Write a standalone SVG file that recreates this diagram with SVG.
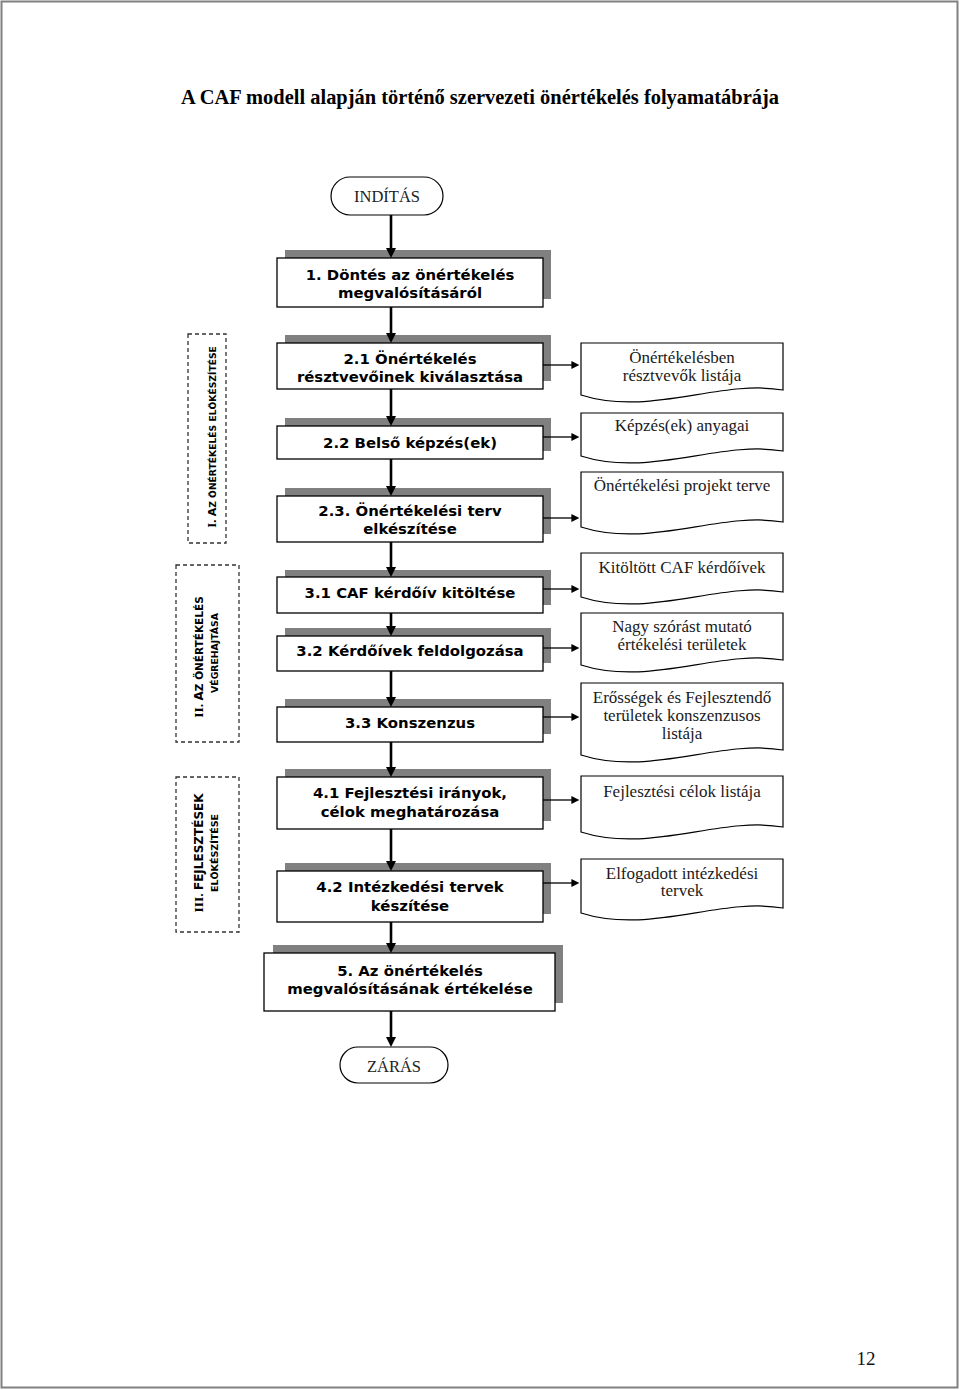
<svg xmlns="http://www.w3.org/2000/svg" width="960" height="1390" viewBox="0 0 960 1390">
<style>
.page{fill:#fff;stroke:#808080;stroke-width:2}
.shadow{fill:#808080}
.box{fill:#fff;stroke:#000;stroke-width:1.3}
.bt{font-family:"DejaVu Sans",Verdana,sans-serif;font-weight:bold;font-size:14.9px;fill:#000;text-anchor:middle}
.doc{fill:#fff;stroke:#000;stroke-width:1.2}
.dt{font-family:"Liberation Serif","Times New Roman",serif;font-size:17px;fill:#1a1a1a;text-anchor:middle}
.pill{fill:#fff;stroke:#000;stroke-width:1.2}
.pt{font-family:"Liberation Serif","Times New Roman",serif;font-size:16.5px;fill:#222;text-anchor:middle}
.main{stroke:#000;stroke-width:2.6;fill:none}
.side{stroke:#000;stroke-width:1.3;fill:none}
.dash{fill:none;stroke:#333;stroke-width:1.3;stroke-dasharray:4 3}
.lbs{font-family:"Liberation Serif","Times New Roman",serif;font-weight:bold}
.lbv{font-family:"DejaVu Sans",Verdana,sans-serif;font-weight:bold}
</style>
<defs>
<marker id="ahm" viewBox="0 0 10 10" refX="2" refY="5" markerWidth="10" markerHeight="11" markerUnits="userSpaceOnUse" orient="auto"><path d="M0,0 L10,5 L0,10 z" fill="#000"/></marker>
<marker id="ahs" viewBox="0 0 10 10" refX="2" refY="5" markerWidth="9" markerHeight="8" markerUnits="userSpaceOnUse" orient="auto"><path d="M0,0 L10,5 L0,10 z" fill="#000"/></marker>
</defs>
<rect class="page" x="1.5" y="1.5" width="956" height="1386"/>
<text x="480" y="104" font-family="'Liberation Serif','Times New Roman',serif" font-weight="bold" font-size="20" text-anchor="middle" textLength="598" lengthAdjust="spacingAndGlyphs">A CAF modell alapján történő szervezeti önértékelés folyamatábrája</text>

<g id="labels">
<rect class="dash" x="188" y="334" width="38" height="209"/>
<text transform="translate(216,437) rotate(-90)" text-anchor="middle"><tspan class="lbs" font-size="13">I. </tspan><tspan class="lbv" font-size="11">A</tspan><tspan class="lbv" font-size="9.2">Z ÖNÉRTÉKELÉS ELŐKÉSZÍTÉSE</tspan></text>
<rect class="dash" x="176" y="565" width="63" height="177"/>
<text transform="translate(203,657) rotate(-90)" text-anchor="middle"><tspan class="lbs" font-size="13.5">II. </tspan><tspan class="lbv" font-size="12">A</tspan><tspan class="lbv" font-size="10.5">Z ÖNÉRTÉKELÉS</tspan></text>
<text transform="translate(218,653) rotate(-90)" text-anchor="middle" class="lbv" font-size="9.3">VÉGREHAJTÁSA</text>
<rect class="dash" x="176" y="777" width="63" height="155"/>
<text transform="translate(203,853) rotate(-90)" text-anchor="middle"><tspan class="lbs" font-size="13.5">III. </tspan><tspan class="lbv" font-size="12">FEJLESZTÉSEK</tspan></text>
<text transform="translate(218,853) rotate(-90)" text-anchor="middle" class="lbv" font-size="9.5">ELŐKÉSZÍTÉSE</text>
</g>

<g id="start"><rect class="pill" x="331" y="177" width="112" height="38" rx="19"/><text class="pt" x="387" y="202">INDÍTÁS</text></g>

<g id="n1"><rect class="shadow" x="285" y="250" width="266" height="49"/><rect class="box" x="277" y="258" width="266" height="49"/><text class="bt" x="410" y="280">1. Döntés az önértékelés</text><text class="bt" x="410" y="298">megvalósításáról</text></g>
<g id="n21"><rect class="shadow" x="285" y="335" width="266" height="46"/><rect class="box" x="277" y="343" width="266" height="46"/><text class="bt" x="410" y="364">2.1 Önértékelés</text><text class="bt" x="410" y="382">résztvevőinek kiválasztása</text></g>
<g id="n22"><rect class="shadow" x="285" y="418" width="266" height="33"/><rect class="box" x="277" y="426" width="266" height="33"/><text class="bt" x="410" y="448">2.2 Belső képzés(ek)</text></g>
<g id="n23"><rect class="shadow" x="285" y="488" width="266" height="46"/><rect class="box" x="277" y="496" width="266" height="46"/><text class="bt" x="410" y="516">2.3. Önértékelési terv</text><text class="bt" x="410" y="534">elkészítése</text></g>
<g id="n31"><rect class="shadow" x="285" y="570" width="266" height="35"/><rect class="box" x="277" y="577" width="266" height="36"/><text class="bt" x="410" y="598">3.1 CAF kérdőív kitöltése</text></g>
<g id="n32"><rect class="shadow" x="285" y="628" width="266" height="35"/><rect class="box" x="277" y="636" width="266" height="35"/><text class="bt" x="410" y="656">3.2 Kérdőívek feldolgozása</text></g>
<g id="n33"><rect class="shadow" x="285" y="699" width="266" height="35"/><rect class="box" x="277" y="707" width="266" height="35"/><text class="bt" x="410" y="728">3.3 Konszenzus</text></g>
<g id="n41"><rect class="shadow" x="285" y="769" width="266" height="52"/><rect class="box" x="277" y="777" width="266" height="52"/><text class="bt" x="410" y="798">4.1 Fejlesztési irányok,</text><text class="bt" x="410" y="817">célok meghatározása</text></g>
<g id="n42"><rect class="shadow" x="285" y="863" width="266" height="51"/><rect class="box" x="277" y="871" width="266" height="51"/><text class="bt" x="410" y="892">4.2 Intézkedési tervek</text><text class="bt" x="410" y="911">készítése</text></g>
<g id="n5"><rect class="shadow" x="273" y="945" width="290" height="58"/><rect class="box" x="264" y="953" width="291" height="58"/><text class="bt" x="410" y="976">5. Az önértékelés</text><text class="bt" x="410" y="994">megvalósításának értékelése</text></g>

<g id="end"><rect class="pill" x="340" y="1047" width="108" height="36" rx="18"/><text class="pt" x="394" y="1072">ZÁRÁS</text></g>

<g id="d1"><path class="doc" d="M581,343 H783 V390 C720,379 650,417 581,395 Z"/><text class="dt" x="682" y="363">Önértékelésben</text><text class="dt" x="682" y="381">résztvevők listája</text></g>
<g id="d2"><path class="doc" d="M581,413 H783 V451 C720,440 650,478 581,456 Z"/><text class="dt" x="682" y="431">Képzés(ek) anyagai</text></g>
<g id="d3"><path class="doc" d="M581,472 H783 V522 C720,511 650,549 581,527 Z"/><text class="dt" x="682" y="491">Önértékelési projekt terve</text></g>
<g id="d4"><path class="doc" d="M581,553 H783 V592 C720,581 650,619 581,597 Z"/><text class="dt" x="682" y="573">Kitöltött CAF kérdőívek</text></g>
<g id="d5"><path class="doc" d="M581,613 H783 V660 C720,649 650,687 581,665 Z"/><text class="dt" x="682" y="632">Nagy szórást mutató</text><text class="dt" x="682" y="650">értékelési területek</text></g>
<g id="d6"><path class="doc" d="M581,683 H783 V750 C720,739 650,777 581,755 Z"/><text class="dt" x="682" y="703">Erősségek és Fejlesztendő</text><text class="dt" x="682" y="721">területek konszenzusos</text><text class="dt" x="682" y="739">listája</text></g>
<g id="d7"><path class="doc" d="M581,776 H783 V827 C720,816 650,854 581,832 Z"/><text class="dt" x="682" y="797">Fejlesztési célok listája</text></g>
<g id="d8"><path class="doc" d="M581,859 H783 V908 C720,897 650,935 581,913 Z"/><text class="dt" x="682" y="879">Elfogadott intézkedési</text><text class="dt" x="682" y="896">tervek</text></g>

<g id="connectors">
<line class="main" x1="391" y1="215" x2="391" y2="250" marker-end="url(#ahm)"/>
<line class="main" x1="391" y1="307" x2="391" y2="335" marker-end="url(#ahm)"/>
<line class="main" x1="391" y1="389" x2="391" y2="418" marker-end="url(#ahm)"/>
<line class="main" x1="391" y1="459" x2="391" y2="488" marker-end="url(#ahm)"/>
<line class="main" x1="391" y1="542" x2="391" y2="569" marker-end="url(#ahm)"/>
<line class="main" x1="391" y1="613" x2="391" y2="628" marker-end="url(#ahm)"/>
<line class="main" x1="391" y1="671" x2="391" y2="699" marker-end="url(#ahm)"/>
<line class="main" x1="391" y1="742" x2="391" y2="769" marker-end="url(#ahm)"/>
<line class="main" x1="391" y1="829" x2="391" y2="863" marker-end="url(#ahm)"/>
<line class="main" x1="391" y1="922" x2="391" y2="945" marker-end="url(#ahm)"/>
<line class="main" x1="391" y1="1011" x2="391" y2="1039" marker-end="url(#ahm)"/>
<line class="side" x1="543" y1="365" x2="573" y2="365" marker-end="url(#ahs)"/>
<line class="side" x1="543" y1="437" x2="573" y2="437" marker-end="url(#ahs)"/>
<line class="side" x1="543" y1="518" x2="573" y2="518" marker-end="url(#ahs)"/>
<line class="side" x1="543" y1="589" x2="573" y2="589" marker-end="url(#ahs)"/>
<line class="side" x1="543" y1="648" x2="573" y2="648" marker-end="url(#ahs)"/>
<line class="side" x1="543" y1="717" x2="573" y2="717" marker-end="url(#ahs)"/>
<line class="side" x1="543" y1="800" x2="573" y2="800" marker-end="url(#ahs)"/>
<line class="side" x1="543" y1="883" x2="573" y2="883" marker-end="url(#ahs)"/>
</g>

<text x="866" y="1365" font-family="'Liberation Serif','Times New Roman',serif" font-size="19" text-anchor="middle" fill="#111">12</text>
</svg>
